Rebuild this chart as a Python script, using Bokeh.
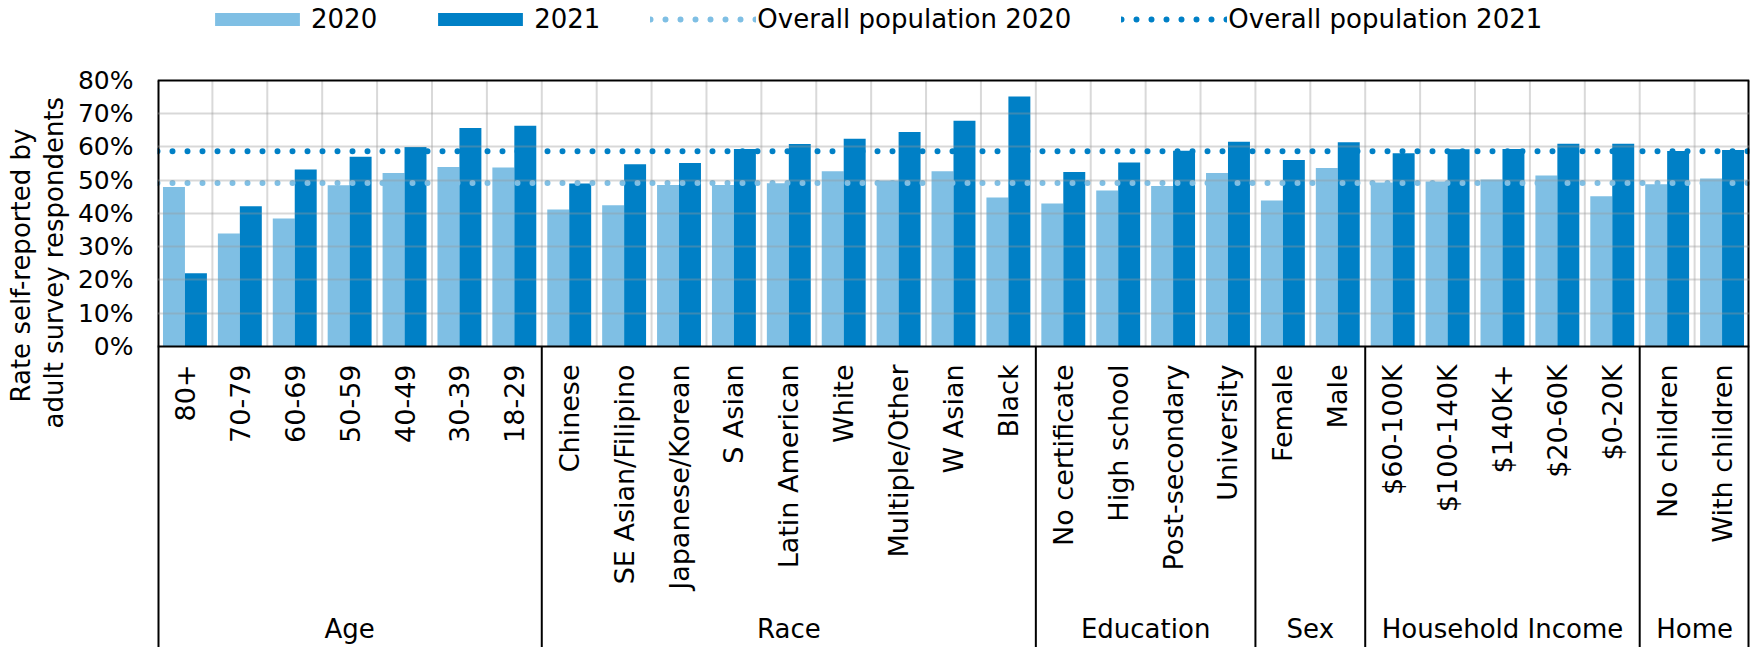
from math import pi
from bokeh.plotting import figure
from bokeh.models import (FactorRange, Range1d, ColumnDataSource, FixedTicker,
                          PrintfTickFormatter, Legend, LegendItem, Title)
from bokeh.transform import dodge
from bokeh.core.properties import value
from bokeh.embed import file_html
from bokeh.resources import INLINE

# ---------------- data ----------------
groups = ["Age", "Race", "Education", "Sex", "Household Income", "Home"]
age = ["80+", "70-79", "60-69", "50-59", "40-49", "30-39", "18-29"]
race = ["Chinese", "SE Asian/Filipino", "Japanese/Korean", "S Asian", "Latin American",
        "White", "Multiple/Other", "W Asian", "Black"]
education = ["No certificate", "High school", "Post-secondary", "University"]
sex = ["Female", "Male"]
income = ["$60-100K", "$100-140K", "$140K+", "$20-60K", "$0-20K"]
home = ["No children", "With children"]

rate_2020 = [48.0, 34.0, 38.5, 48.5, 52.2, 54.0, 53.8,
             41.2, 42.5, 48.6, 48.6, 49.1, 52.7, 49.9, 52.7, 44.8,
             43.0, 46.9, 48.3, 52.2,
             43.9, 53.7,
             49.3, 49.6, 50.2, 51.4, 45.2,
             48.8, 50.5]
rate_2021 = [22.0, 42.2, 53.2, 57.1, 60.0, 65.7, 66.4,
             49.0, 54.8, 55.2, 59.4, 60.9, 62.5, 64.5, 67.9, 75.2,
             52.5, 55.3, 58.9, 61.6,
             56.1, 61.4,
             58.1, 59.3, 59.4, 61.0, 61.0,
             58.8, 59.1]
overall_2020 = 49.2
overall_2021 = 58.7
y_ticks = [0, 10, 20, 30, 40, 50, 60, 70, 80]
legend_labels = ["2020", "2021", "Overall population 2020", "Overall population 2021"]
y_title_lines = ["Rate self-reported by", "adult survey respondents"]

# ---------------- styles ----------------
LIGHT = "#7fbfe4"
DARK = "#0080c6"
FONT = "DejaVu Sans"

group_members = [age, race, education, sex, income, home]
factors = [(g, c) for g, cats in zip(groups, group_members) for c in cats]

Y_BOTTOM = -90.53
Y_TOP = 104.06
x_range = FactorRange(*factors, factor_padding=0, group_padding=0, range_padding=0)

p = figure(width=1752, height=647, x_range=x_range, y_range=Range1d(Y_BOTTOM, Y_TOP),
           x_axis_location=None, output_backend="svg", toolbar_location=None,
           min_border_left=157, min_border_right=3, min_border_top=0, min_border_bottom=0)
p.outline_line_color = None
p.xgrid.visible = False

# vertical light grid lines at category boundaries
gsrc = ColumnDataSource(dict(x=factors[1:]))
p.segment(x0=dodge("x", -0.5, range=x_range), x1=dodge("x", -0.5, range=x_range),
          y0=y_ticks[0], y1=y_ticks[-1], source=gsrc, line_color="#d9d9d9", line_width=2)

# bars
src = ColumnDataSource(dict(x=factors, r2020=rate_2020, r2021=rate_2021))
b20 = p.vbar(x=dodge("x", -0.2, range=x_range), top="r2020", width=0.4, source=src,
             fill_color=LIGHT, line_color=None)
b21 = p.vbar(x=dodge("x", 0.2, range=x_range), top="r2021", width=0.4, source=src,
             fill_color=DARK, line_color=None)

# overall population dotted lines
line_x = [factors[0] + (-0.5,), factors[-1] + (0.5,)]
l20 = p.line(x=line_x, y=[overall_2020, overall_2020], line_color=LIGHT, line_width=6,
             line_dash="0 15", line_cap="round")
l21 = p.line(x=line_x, y=[overall_2021, overall_2021], line_color=DARK, line_width=6,
             line_dash="0 15", line_cap="round")

# group separators below the plot area
ssrc = ColumnDataSource(dict(x=[(g, cats[0]) for g, cats in zip(groups[1:], group_members[1:])]))
p.segment(x0=dodge("x", -0.5, range=x_range), x1=dodge("x", -0.5, range=x_range),
          y0=Y_BOTTOM, y1=0, source=ssrc, line_color="black", line_width=2)
# left / right frame edges
p.segment(x0=dodge("x", -0.5, range=x_range), x1=dodge("x", -0.5, range=x_range),
          y0=Y_BOTTOM, y1=y_ticks[-1], source=ColumnDataSource(dict(x=[factors[0]])),
          line_color="black", line_width=4)
p.segment(x0=dodge("x", 0.5, range=x_range), x1=dodge("x", 0.5, range=x_range),
          y0=Y_BOTTOM, y1=y_ticks[-1], source=ColumnDataSource(dict(x=[factors[-1]])),
          line_color="black", line_width=4)
# top edge and zero line of the plot area
p.segment(x0=[factors[0] + (-0.5,)] * 2, x1=[factors[-1] + (0.5,)] * 2,
          y0=[y_ticks[0], y_ticks[-1]], y1=[y_ticks[0], y_ticks[-1]],
          line_color="black", line_width=2)

# category labels
lsrc = ColumnDataSource(dict(x=factors, text=[c for _, c in factors]))
p.text(x="x", y=-5.4, text="text", source=lsrc, angle=pi / 2, text_align="right",
       text_baseline="middle", text_font=value(FONT), text_font_size="27px", text_color="black")
# group labels
p.text(x=groups, y=[-85.1] * len(groups), text=groups, text_align="center",
       text_baseline="middle", text_font=value(FONT), text_font_size="26px", text_color="black")

# y axis
p.yaxis.ticker = FixedTicker(ticks=y_ticks)
p.yaxis.formatter = PrintfTickFormatter(format="%d%%")
p.yaxis.major_label_text_font = FONT
p.yaxis.major_label_text_font_size = "25px"
p.yaxis.major_label_text_color = "black"
p.yaxis.major_label_standoff = 18
p.yaxis.major_tick_line_color = None
p.yaxis.minor_tick_line_color = None
p.yaxis.axis_line_color = None

p.ygrid.ticker = FixedTicker(ticks=y_ticks[1:-1])
p.ygrid.grid_line_color = "#999999"
p.ygrid.grid_line_alpha = 0.38
p.ygrid.grid_line_width = 2
p.ygrid.level = "annotation"

# y-axis title: two lines as left-side titles
p.add_layout(Title(text=y_title_lines[1], align="left", vertical_align="top", offset=219,
                   standoff=7, text_font=FONT, text_font_size="26px", text_font_style="normal",
                   text_color="black"), "left")
p.add_layout(Title(text=y_title_lines[0], align="left", vertical_align="bottom", offset=245,
                   standoff=0, text_font=FONT, text_font_size="26px", text_font_style="normal",
                   text_color="black"), "left")

legend = Legend(items=[LegendItem(label=legend_labels[0], renderers=[b20]),
                       LegendItem(label=legend_labels[1], renderers=[b21]),
                       LegendItem(label=legend_labels[2], renderers=[l20]),
                       LegendItem(label=legend_labels[3], renderers=[l21])],
                orientation="horizontal", location=(47, 613), glyph_width=106, glyph_height=16,
                label_standoff=1, spacing=50, padding=0, margin=0,
                border_line_color=None, background_fill_alpha=0,
                label_text_font=FONT, label_text_font_size="26px", label_text_color="black")
p.add_layout(legend)

open("out.html", "w").write(file_html(p, INLINE))
